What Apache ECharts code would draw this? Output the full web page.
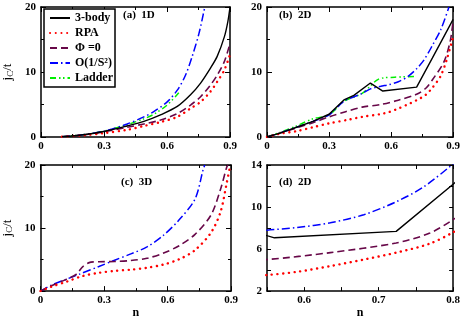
<!DOCTYPE html>
<html>
<head>
<meta charset="utf-8">
<script src="https://cdn.jsdelivr.net/npm/echarts@6/dist/echarts.min.js"></script>
<style>
  html, body { margin: 0; padding: 0; background: #fff; }
  #chart { width: 463px; height: 320px; }
</style>
</head>
<body>
<div id="chart"></div>
<script>
// series names (legend)
const names = ["3-body", "RPA", "\u03A6 =0", "O(1/S\u00B2)", "Ladder"];

// (a) 1D : [n, jc/t]
const body1D = [[0.1, 0.05], [0.2, 0.35], [0.3, 0.85], [0.41, 1.7], [0.49, 2.4], [0.569, 3.4], [0.649, 4.7], [0.712, 6.5], [0.76, 8.3], [0.807, 10.6], [0.839, 12.4], [0.873, 15.4], [0.89, 17.8], [0.9, 20]];
const rpa1D = [[0.1, 0.05], [0.2, 0.25], [0.3, 0.6], [0.41, 1.1], [0.49, 1.7], [0.569, 2.3], [0.649, 3.1], [0.712, 4.4], [0.76, 5.4], [0.807, 7.0], [0.839, 8.5], [0.873, 10.3], [0.9, 12.7]];
const phi1D = [[0.1, 0.05], [0.2, 0.3], [0.3, 0.8], [0.41, 1.5], [0.49, 2.0], [0.569, 2.6], [0.649, 3.6], [0.712, 4.9], [0.76, 6.2], [0.807, 8.0], [0.839, 9.5], [0.873, 11.6], [0.9, 14.4]];
const spin1D = [[0.1, 0.05], [0.2, 0.35], [0.3, 0.9], [0.41, 2.0], [0.49, 3.1], [0.537, 3.9], [0.601, 5.4], [0.649, 7.2], [0.688, 9.5], [0.72, 12.4], [0.752, 15.9], [0.78, 20]];
const ladder1D = [[0.1, 0.05], [0.2, 0.35], [0.3, 0.9], [0.41, 1.9], [0.49, 2.8], [0.537, 3.5], [0.6, 4.9], [0.656, 6.8]];

// (b) and (d) 2D
const body2D = [[0, 0], [0.063, 0.6], [0.143, 1.5], [0.222, 2.4], [0.3, 3.5], [0.372, 5.7], [0.42, 6.4], [0.5, 8.3], [0.56, 7.07], [0.7235, 7.68], [0.8, 12.17], [0.9, 18.1]];
const rpa2D = [[0, 0], [0.063, 0.5], [0.143, 0.9], [0.222, 1.5], [0.3, 2.1], [0.4, 2.7], [0.46, 3.1], [0.55, 3.53], [0.59, 3.83], [0.635, 4.38], [0.68, 5.0], [0.7235, 5.66], [0.768, 6.5], [0.8, 7.6], [0.84, 9.4], [0.87, 12], [0.9, 15.4]];
const phi2D = [[0, 0], [0.063, 0.6], [0.143, 1.4], [0.222, 2.2], [0.3, 3.1], [0.38, 3.9], [0.46, 4.6], [0.55, 5.0], [0.635, 5.66], [0.7235, 6.58], [0.768, 7.5], [0.8, 8.8], [0.856, 11.6], [0.887, 14.9], [0.9, 18]];
const spin2D = [[0, 0], [0.063, 0.6], [0.143, 1.5], [0.222, 2.4], [0.3, 3.4], [0.372, 5.5], [0.46, 6.7], [0.5, 7.4], [0.55, 7.8], [0.59, 8.05], [0.635, 8.5], [0.68, 9.27], [0.7235, 10.5], [0.76, 11.9], [0.8, 14.1], [0.84, 16.5], [0.88, 20]];
const ladder2D = [[0, 0], [0.063, 0.7], [0.143, 1.7], [0.222, 2.8], [0.3, 3.4], [0.372, 5.5], [0.46, 6.7], [0.54, 8.9], [0.618, 9.2], [0.713, 9.3]];

// (c) 3D
const rpa3D = [[0, 0], [0.048, 0.66], [0.124, 1.5], [0.2, 2.4], [0.276, 2.9], [0.35, 3.2], [0.427, 3.4], [0.503, 3.7], [0.579, 4.2], [0.655, 5.05], [0.73, 6.5], [0.806, 9.3], [0.851, 12.6], [0.88, 17.2], [0.897, 20]];
const phi3D = [[0, 0], [0.048, 0.8], [0.124, 1.9], [0.17, 2.7], [0.2, 3.9], [0.238, 4.6], [0.276, 4.65], [0.35, 4.7], [0.427, 4.85], [0.503, 5.2], [0.579, 6.0], [0.655, 7.2], [0.73, 9.0], [0.806, 12.1], [0.851, 16.2], [0.88, 19.7], [0.886, 20]];
const spin3D = [[0, 0], [0.048, 0.9], [0.124, 1.9], [0.185, 2.7], [0.276, 3.9], [0.35, 4.9], [0.427, 5.9], [0.503, 7.0], [0.579, 8.8], [0.655, 11.3], [0.73, 14.6], [0.768, 19.2], [0.776, 20]];

// tick labels
const nTicks = [0, 0.3, 0.6, 0.9];
const jTicks = [0, 10, 20];
const nTicksD = [0.6, 0.7, 0.8];
const jTicksD = [2, 6, 10, 14];

const font = { fontFamily: "Liberation Serif", fontWeight: "bold", fontSize: 11, color: "#000" };

const styles = [
  { color: "#000000", width: 1.4, type: "solid" },
  { color: "#ff0000", width: 2.4, type: [0.1, 5.6], cap: "round" },
  { color: "#670748", width: 1.6, type: [7, 4] },
  { color: "#0000ff", width: 1.5, type: [8, 3, 1.5, 3] },
  { color: "#00ee00", width: 1.5, type: [6, 3, 1.5, 2.5, 1.5, 3] }
];

function near(list) {
  return v => list.some(t => Math.abs(t - v) < 1e-6);
}

function xAxes(g, min, max, interval, ticks, minor, name) {
  const isTick = near(ticks);
  const base = {
    type: "value", gridIndex: g, min: min, max: max, interval: interval,
    axisLine: { show: true, onZero: false, lineStyle: { color: "#000", width: 1.5 } },
    axisTick: { show: true, inside: true, length: minor ? 5 : 4, lineStyle: { color: "#000", width: 1 } },
    minorTick: { show: minor, splitNumber: 2, length: 3, lineStyle: { color: "#000", width: 1 } },
    splitLine: { show: false }, minorSplitLine: { show: false }
  };
  return [
    Object.assign({}, base, {
      position: "bottom",
      axisLabel: Object.assign({}, font, { margin: 4, showMinLabel: true, showMaxLabel: true,
        formatter: v => isTick(v) ? (v === 0 ? "0" : v.toFixed(1)) : "" }),
      name: name, nameLocation: "middle", nameGap: 14,
      nameTextStyle: { fontFamily: "Liberation Serif", fontWeight: "bold", fontSize: 12, color: "#000" }
    }),
    Object.assign({}, base, { position: "top", axisLabel: { show: false } })
  ];
}

function yAxes(g, min, max, interval, ticks, minor, name) {
  const isTick = near(ticks);
  const base = {
    type: "value", gridIndex: g, min: min, max: max, interval: interval,
    axisLine: { show: true, onZero: false, lineStyle: { color: "#000", width: 1.5 } },
    axisTick: { show: true, inside: true, length: minor ? 5 : 4, lineStyle: { color: "#000", width: 1 } },
    minorTick: { show: minor, splitNumber: 2, length: 3, lineStyle: { color: "#000", width: 1 } },
    splitLine: { show: false }, minorSplitLine: { show: false }
  };
  return [
    Object.assign({}, base, {
      position: "left",
      axisLabel: Object.assign({}, font, { margin: 5, showMinLabel: true, showMaxLabel: true,
        formatter: v => isTick(v) ? String(v) : "" }),
      name: name, nameLocation: "middle", nameGap: 26, nameRotate: 90,
      nameTextStyle: {
        fontFamily: "Liberation Serif", fontSize: 13, color: "#000",
        rich: {
          m: { fontFamily: "Liberation Serif", fontSize: 13, color: "#000" },
          s: { fontFamily: "Liberation Serif", fontSize: 9, color: "#000", verticalAlign: "bottom", padding: [5, 0, 0, 0] }
        }
      }
    }),
    Object.assign({}, base, { position: "right", axisLabel: { show: false } })
  ];
}

const jName = "{m|j}{s|C}{m|/t}";

const grids = [
  { left: 41, top: 7, width: 189, height: 130 },
  { left: 267, top: 7, width: 188, height: 130 },
  { left: 39, top: 165, width: 192, height: 131 },
  { left: 267, top: 165, width: 188, height: 131 }
];

const xAxis = [].concat(
  xAxes(0, 0, 0.9, 0.3, nTicks, true, ""),
  xAxes(1, 0, 0.9, 0.3, nTicks, true, ""),
  xAxes(2, 0, 0.9, 0.3, nTicks, true, "n"),
  xAxes(3, 0.55, 0.8, 0.05, nTicksD, false, "n")
);
const yAxis = [].concat(
  yAxes(0, 0, 20, 10, jTicks, true, jName),
  yAxes(1, 0, 20, 10, jTicks, true, ""),
  yAxes(2, 0, 20, 10, jTicks, true, jName),
  yAxes(3, 2, 14, 2, jTicksD, false, "")
);

function line(k, g, data, smooth) {
  return {
    type: "line", name: names[k], xAxisIndex: 2 * g, yAxisIndex: 2 * g,
    data: data, symbol: "none", smooth: smooth ? 0.3 : false, clip: true,
    lineStyle: styles[k], itemStyle: { color: styles[k].color }, z: 10 - k
  };
}

const series = [
  line(0, 0, body1D, true), line(1, 0, rpa1D, true), line(2, 0, phi1D, true), line(3, 0, spin1D, true), line(4, 0, ladder1D, true),
  line(0, 1, body2D, false), line(1, 1, rpa2D, true), line(2, 1, phi2D, true), line(3, 1, spin2D, true), line(4, 1, ladder2D, true),
  line(1, 2, rpa3D, true), line(2, 2, phi3D, true), line(3, 2, spin3D, true),
  line(0, 3, body2D, false), line(1, 3, rpa2D, true), line(2, 3, phi2D, true), line(3, 3, spin2D, true)
];

const panelText = (x, y, t) => ({
  type: "text", left: x, top: y,
  style: { text: t, fontFamily: "Liberation Serif", fontWeight: "bold", fontSize: 11, fill: "#000" }
});

const option = {
  animation: false,
  backgroundColor: "#fff",
  grid: grids,
  xAxis: xAxis,
  yAxis: yAxis,
  legend: {
    data: names, orient: "vertical", left: 44, top: 9,
    padding: [3, 2, 3, 5], itemGap: 3, itemWidth: 20, itemHeight: 8,
    itemStyle: { color: "rgba(0,0,0,0)", borderWidth: 0, opacity: 0 },
    borderColor: "#000", borderWidth: 1.5, backgroundColor: "#fff",
    textStyle: { fontFamily: "Liberation Serif", fontWeight: "bold", fontSize: 12, lineHeight: 12, color: "#000" }
  },
  graphic: [
    panelText(123, 10, "(a)  1D"),
    panelText(279, 10, "(b)  2D"),
    panelText(121, 177, "(c)  3D"),
    panelText(279, 177, "(d)  2D")
  ],
  series: series
};

const chart = echarts.init(document.getElementById("chart"), null, { renderer: "canvas" });
chart.setOption(option);
</script>
</body>
</html>
